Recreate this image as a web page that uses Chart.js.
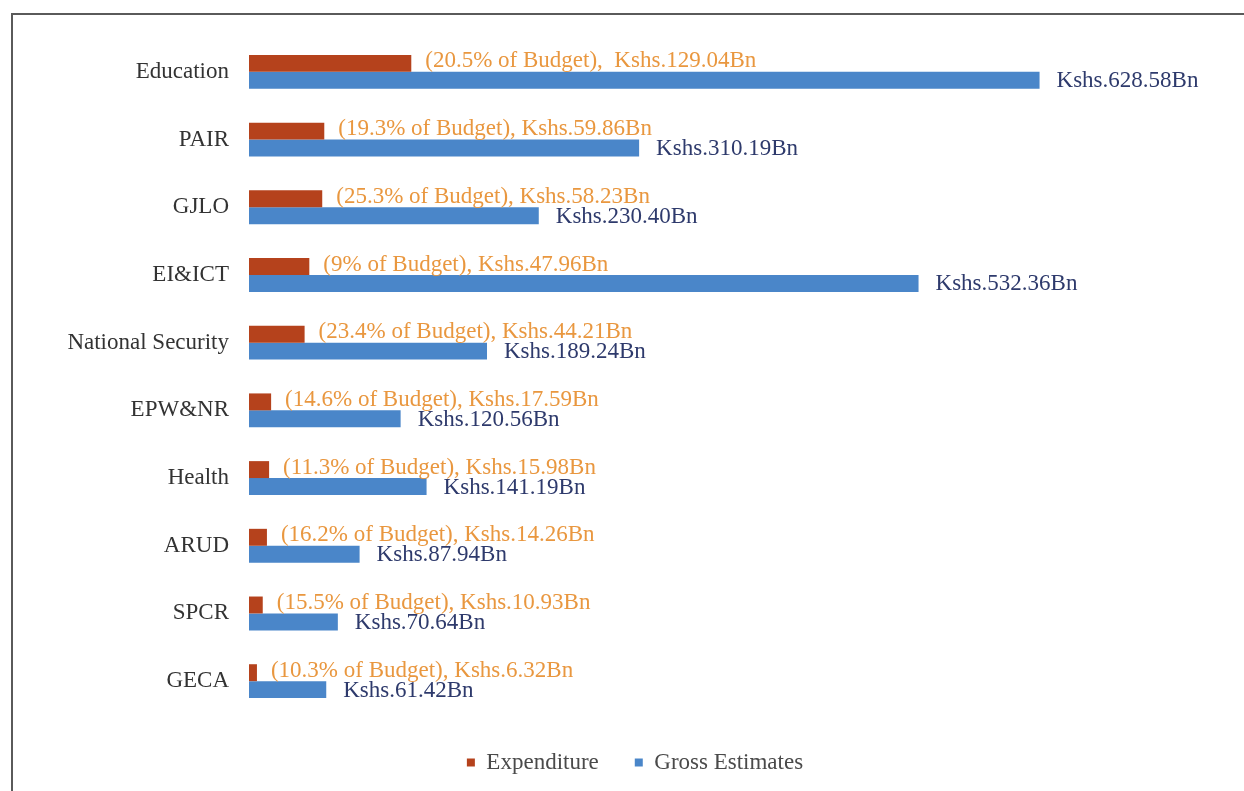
<!DOCTYPE html>
<html>
<head>
<meta charset="utf-8">
<script src="https://cdn.jsdelivr.net/npm/chart.js@4.4.0/dist/chart.umd.min.js"></script>
<style>
  html, body { margin: 0; padding: 0; background: #fff; }
  #wrap { position: relative; width: 1244px; height: 791px; overflow: hidden; }
  #frame {
    position: absolute; left: 11px; top: 13px; width: 1300px; height: 900px;
    border-top: 2px solid #5a5a5a; border-left: 2px solid #5a5a5a;
  }
  #budgetChart { position: absolute; left: 0; top: 0; }
</style>
</head>
<body>
<div id="wrap">
  <div id="frame"></div>
  <canvas id="budgetChart" width="1244" height="791"></canvas>
</div>
<script>
/* data (Kshs billions) */
const sectors = ["Education", "PAIR", "GJLO", "EI&ICT", "National Security",
  "EPW&NR", "Health", "ARUD", "SPCR", "GECA"];
const expenditure = [129.04, 59.86, 58.23, 47.96, 44.21, 17.59, 15.98, 14.26, 10.93, 6.32];
const grossEstimates = [628.58, 310.19, 230.40, 532.36, 189.24, 120.56, 141.19, 87.94, 70.64, 61.42];
const budgetShare = ["20.5", "19.3", "25.3", "9", "23.4", "14.6", "11.3", "16.2", "15.5", "10.3"];

const expColor = "#b5421c";
const grossColor = "#4a86c9";
const fontFamily = "'Liberation Serif', 'DejaVu Serif', serif";

function expLabel(i) {
  const gap = i === 0 ? ",  " : ", ";
  return `(${budgetShare[i]}% of Budget)${gap}Kshs.${expenditure[i].toFixed(2)}Bn`;
}

function grossLabel(i) {
  return `Kshs.${grossEstimates[i].toFixed(2)}Bn`;
}

/* text after each bar */
const barLabels = {
  id: "barLabels",
  afterDatasetsDraw(chart) {
    const ctx = chart.ctx;
    ctx.save();
    ctx.font = `23px ${fontFamily}`;
    ctx.textBaseline = "middle";
    ctx.textAlign = "left";

    chart.getDatasetMeta(0).data.forEach((bar, i) => {
      ctx.fillStyle = "#e9973f";
      ctx.fillText(expLabel(i), bar.x + 14, bar.y - 2);
    });
    chart.getDatasetMeta(1).data.forEach((bar, i) => {
      ctx.fillStyle = "#2e3a6c";
      ctx.fillText(grossLabel(i), bar.x + 17, bar.y + 1);
    });
    ctx.restore();
  }
};

new Chart(document.getElementById("budgetChart"), {
  type: "bar",
  data: {
    labels: sectors,
    datasets: [
      {
        label: "Expenditure",
        data: expenditure,
        backgroundColor: expColor,
        categoryPercentage: 0.5,
        barPercentage: 1
      },
      {
        label: "Gross Estimates",
        data: grossEstimates,
        backgroundColor: grossColor,
        categoryPercentage: 0.5,
        barPercentage: 1
      }
    ]
  },
  options: {
    indexAxis: "y",
    responsive: false,
    animation: false,
    layout: {
      // left padding only shifts the legend; y axis width keeps bars at x=249
      padding: { top: 38, right: 14, bottom: 7, left: 40 }
    },
    scales: {
      x: {
        display: false,
        min: 0,
        max: 780
      },
      y: {
        afterFit(scale) { scale.width = 209; },
        grid: { display: false, drawTicks: false },
        border: { display: false },
        ticks: {
          padding: 20,
          color: "#333",
          font: { family: fontFamily, size: 23 }
        }
      }
    },
    plugins: {
      tooltip: { enabled: false },
      legend: {
        position: "bottom",
        labels: {
          boxWidth: 8,
          boxHeight: 8,
          padding: 36,
          color: "#4a4a4a",
          font: { family: fontFamily, size: 23 }
        }
      }
    }
  },
  plugins: [barLabels]
});
</script>
</body>
</html>
